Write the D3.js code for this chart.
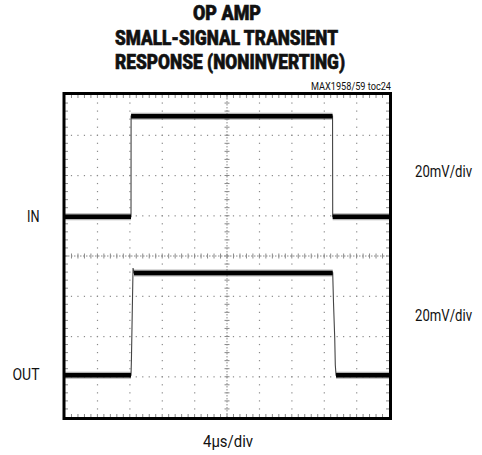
<!DOCTYPE html>
<html><head><meta charset="utf-8">
<script src="https://cdn.jsdelivr.net/npm/d3@7"></script>
<style>
body{margin:0;background:#fff}
text{font-family:Roboto,"Liberation Sans",sans-serif;fill:#111}
</style>
</head><body>
<svg id="c" width="482" height="455"></svg>
<script>
// ---- data ----
const titleLines = ["OP AMP", "SMALL-SIGNAL TRANSIENT", "RESPONSE (NONINVERTING)"];
const tocLabel = "MAX1958/59 toc24";
const channelLabels = ["IN", "OUT"];
const scaleLabels = ["20mV/div", "20mV/div"];
const timeLabel = "4\u00b5s/div";
const timeDomain = [0, 40];      // µs, 10 div x 4µs
const voltDomain = [-80, 80];    // mV on screen, 8 div x 20mV
const timeGrid = [4, 8, 12, 16, 20, 24, 28, 32, 36];
const voltGrid = [-60, -40, -20, 0, 20, 40, 60];
const timeMinor = 0.8;
const voltMinor = 4;
// IN trace (display mV)
const inTime  = [0, 8.15, 8.16, 33.03, 33.05, 40];
const inValue = [19.5, 19.5, 69.5, 69.5, 19.5, 19.5];
// OUT trace (display mV)
const outTime  = [0, 8.15, 8.2, 8.27, 8.40, 8.52, 33.05, 33.15, 33.30, 33.37, 33.46, 40];
const outValue = [-59.2, -59.2, -51.7, -35.8, -6, -8.4, -8.4, -23.4, -40.7, -54.2, -59.2, -59.2];

// ---- drawing ----
const svg = d3.select("#c");
const L = 65, R = 389, T = 95, B = 417;
const x = d3.scaleLinear().domain(timeDomain).range([L, R]);
const y = d3.scaleLinear().domain(voltDomain).range([B, T]);

function txt(s, px, py, size, anchor, len, weight) {
  return svg.append("text").attr("x", px).attr("y", py)
    .attr("text-anchor", anchor).attr("font-size", size)
    .attr("font-weight", weight || "normal")
    .attr("textLength", len).attr("lengthAdjust", "spacingAndGlyphs")
    .text(s);
}

// title
const titleWidths = [68, 223, 230];
const titleCenters = [227, 226.5, 230];
titleLines.forEach((s, i) => txt(s, titleCenters[i], 20 + i * 24.5, 19.5, "middle", titleWidths[i], "900")
  .attr("stroke", "#111").attr("stroke-width", 0.6));
txt(tocLabel, 391, 90, 10, "end", 80);

const g = svg.append("g");
const gridColor = "#8a8a8a";

// minor dots along major grid lines
timeGrid.filter(t => t !== 20).forEach(t => {
  d3.range(voltDomain[0] + voltMinor, voltDomain[1], voltMinor).forEach(v => {
    g.append("rect").attr("x", x(t) - 0.5).attr("y", y(v) - 0.6).attr("width", 1.2).attr("height", 1.2).attr("fill", gridColor);
  });
});
voltGrid.filter(v => v !== 0).forEach(v => {
  d3.range(timeDomain[0] + timeMinor, timeDomain[1], timeMinor).forEach(t => {
    g.append("rect").attr("x", x(t) - 0.6).attr("y", y(v) - 0.5).attr("width", 1.2).attr("height", 1.2).attr("fill", gridColor);
  });
});
// center lines
g.append("line").attr("x1", L).attr("x2", R).attr("y1", y(0)).attr("y2", y(0))
  .attr("stroke", gridColor).attr("stroke-dasharray", "1.5,1.5").attr("stroke-width", 1);
g.append("line").attr("x1", x(20)).attr("x2", x(20)).attr("y1", T).attr("y2", B)
  .attr("stroke", gridColor).attr("stroke-dasharray", "1.5,1.5").attr("stroke-width", 1);
d3.range(timeDomain[0] + timeMinor, timeDomain[1], timeMinor).forEach(t => {
  g.append("line").attr("x1", x(t)).attr("x2", x(t)).attr("y1", y(0) - 2.5).attr("y2", y(0) + 2.5)
    .attr("stroke", gridColor).attr("stroke-width", 1);
  g.append("line").attr("x1", x(t)).attr("x2", x(t)).attr("y1", T).attr("y2", T + 3)
    .attr("stroke", gridColor).attr("stroke-width", 1);
  g.append("line").attr("x1", x(t)).attr("x2", x(t)).attr("y1", B - 3).attr("y2", B)
    .attr("stroke", gridColor).attr("stroke-width", 1);
});
d3.range(voltDomain[0] + voltMinor, voltDomain[1], voltMinor).forEach(v => {
  g.append("line").attr("x1", x(20) - 2.5).attr("x2", x(20) + 2.5).attr("y1", y(v)).attr("y2", y(v))
    .attr("stroke", gridColor).attr("stroke-width", 1);
  g.append("line").attr("x1", L).attr("x2", L + 3).attr("y1", y(v)).attr("y2", y(v))
    .attr("stroke", gridColor).attr("stroke-width", 1);
  g.append("line").attr("x1", R - 3).attr("x2", R).attr("y1", y(v)).attr("y2", y(v))
    .attr("stroke", gridColor).attr("stroke-width", 1);
});

// traces
function drawTrace(times, values) {
  const pts = times.map((t, i) => [t, values[i]]);
  const line = d3.line().x(d => x(d[0])).y(d => y(d[1]));
  svg.append("path").attr("d", line(pts)).attr("fill", "none")
    .attr("stroke", "#444").attr("stroke-width", 1.1);
  for (let i = 0; i < pts.length - 1; i++) {
    if (pts[i][1] === pts[i + 1][1]) {
      const seg = [pts[i], pts[i + 1]];
      svg.append("path").attr("d", line(seg)).attr("fill", "none")
        .attr("stroke", "#555").attr("stroke-width", 7).attr("stroke-opacity", 0.45);
      svg.append("path").attr("d", line(seg)).attr("fill", "none")
        .attr("stroke", "#000").attr("stroke-width", 4.5);
    }
  }
}
drawTrace(inTime, inValue);
drawTrace(outTime, outValue);

// frame
svg.append("rect").attr("x", 64).attr("y", 93.5).attr("width", 326.5).attr("height", 325)
  .attr("fill", "none").attr("stroke", "#000").attr("stroke-width", 3);

// labels
txt(channelLabels[0], 39.5, 222, 16, "end", 12.5);
txt(channelLabels[1], 39.5, 380, 16, "end", 27);
txt(scaleLabels[0], 415, 177, 16, "start", 57);
txt(scaleLabels[1], 415, 321, 16, "start", 57);
txt(timeLabel, 228, 447, 16, "middle", 50);
</script>
</body></html>
